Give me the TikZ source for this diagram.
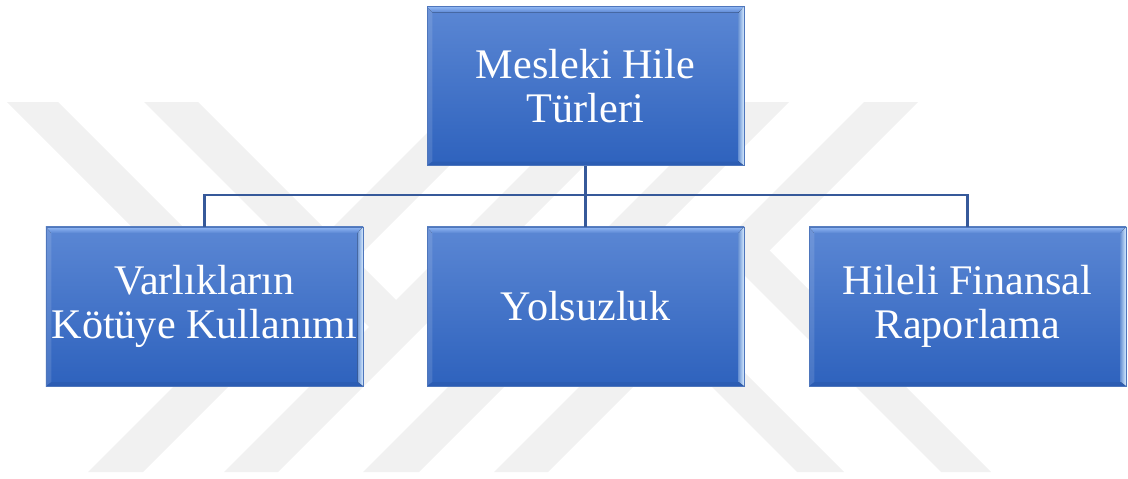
\documentclass[tikz,border=0pt]{standalone}
\usepackage{fontspec}
\setmainfont{Liberation Serif}
\definecolor{boxtop}{HTML}{5B87D4}
\definecolor{boxbot}{HTML}{2E62BD}
\definecolor{boxedge}{HTML}{4E76BC}
\definecolor{bevlight}{HTML}{92B8F4}
\definecolor{bevright}{HTML}{D8ECFF}
\definecolor{linkblue}{HTML}{36599A}
\definecolor{wmgray}{HTML}{F1F1F1}
\begin{document}
\begin{tikzpicture}[x=0.03cm, y=-0.03cm,
    hilebox/.style={rectangle, inner sep=0pt,
        minimum width=9.51cm, minimum height=4.77cm,
        draw=boxedge, line width=0.6pt,
        top color=boxtop, bottom color=boxbot,
        text=white, align=center,
        font=\fontsize{36}{37}\selectfont,
        path picture={
            \coordinate (nw) at (path picture bounding box.north west);
            \coordinate (ne) at (path picture bounding box.north east);
            \coordinate (sw) at (path picture bounding box.south west);
            \coordinate (se) at (path picture bounding box.south east);
            % top bevel
            \fill[top color=bevlight, bottom color=boxtop]
                (nw) -- (ne) -- ([shift={(-0.16cm,-0.18cm)}]ne) -- ([shift={(0.16cm,-0.18cm)}]nw) -- cycle;
            % right bevel
            \fill[left color=boxbot!60!bevright, right color=bevright]
                (ne) -- (se) -- ([shift={(-0.16cm,0.12cm)}]se) -- ([shift={(-0.16cm,-0.18cm)}]ne) -- cycle;
            % left bevel
            \fill[white, opacity=0.12]
                (nw) -- ([shift={(0.16cm,-0.18cm)}]nw) -- ([shift={(0.16cm,0.12cm)}]sw) -- (sw) -- cycle;
            % bottom bevel
            \fill[boxbot!85!black, opacity=0.35]
                (sw) -- (se) -- ([shift={(-0.16cm,0.12cm)}]se) -- ([shift={(0.16cm,0.12cm)}]sw) -- cycle;
        }},
    link/.style={draw=linkblue, line width=1.9pt}]

    \useasboundingbox (0,0) rectangle (1128,478);

    % --- Watermark (faint gray strokes) ---
    % long strokes from bottom to top
    \foreach \a/\b in {560/615, 696/750, 835/891, 966/1020} {
        \fill[wmgray] ({\a-102},102) -- ({\b-102},102) -- ({\b-472},472) -- ({\a-472},472) -- cycle;
    }
    % arms from the top
    \foreach \c/\p/\q in {565/-95/-44, 701/42/96} {
        \fill[wmgray] ({\p+102},102) -- ({\q+102},102) -- ({(\c+\q)/2},{(\c-\q)/2}) -- ({(\c+\p)/2},{(\c-\p)/2}) -- cycle;
    }
    % arms from the bottom
    \foreach \c/\p/\q in {886/325/372, 1015/469/519} {
        \fill[wmgray] ({\p+472},472) -- ({\q+472},472) -- ({(\c+\q)/2},{(\c-\q)/2}) -- ({(\c+\p)/2},{(\c-\p)/2}) -- cycle;
    }

    % --- Boxes ---
    \node[hilebox] (tur) at (585.5, 86) {Mesleki Hile\\Türleri};
    \node[hilebox] (varlik) at (204.5, 306.5) {Varlıkların\\Kötüye Kullanımı};
    \node[hilebox] (yolsuz) at (585.5, 306.5) {Yolsuzluk};
    \node[hilebox] (hileli) at (967.5, 306.5) {Hileli Finansal\\Raporlama};

    % --- Connectors ---
    \coordinate (split) at (585.5, 195);
    \draw[link] (tur.south) -- (split);
    \foreach \n in {varlik, yolsuz, hileli} {
        \draw[link] (split) -| (\n.north);
    }

\end{tikzpicture}
\end{document}
